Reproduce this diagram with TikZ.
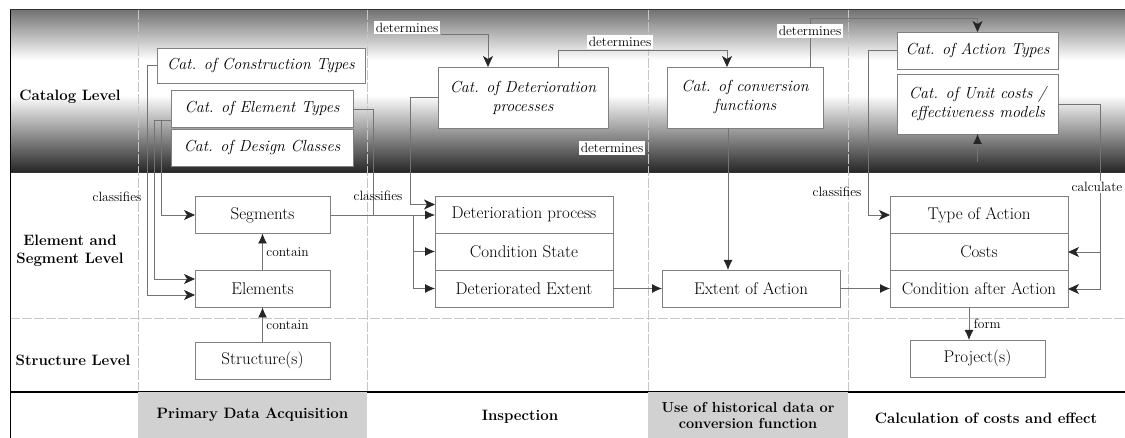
\documentclass[tikz,border=0pt]{standalone}
\usetikzlibrary{positioning, arrows.meta, calc}

\definecolor{linegray}{gray}{0.45}
\definecolor{boxgray}{gray}{0.5}
\definecolor{fieldgray}{gray}{0.82}

\begin{document}
\begin{tikzpicture}[x=1pt, y=-1pt, line width=0.8pt,
  data node/.style={draw=boxgray, fill=white, minimum height=37pt, inner sep=2pt, outer sep=0pt, font=\fontsize{17}{19}\selectfont},
  cat node/.style={data node, font=\fontsize{16}{19}\selectfont\itshape, align=center},
  level text/.style={font=\fontsize{15}{17.5}\selectfont\bfseries, align=center},
  field/.style={level text, fill=fieldgray, minimum height=46pt},
  small label/.style={font=\fontsize{13.5}{15}\selectfont, inner sep=1.5pt},
  det tag/.style={small label, fill=white, inner sep=2pt},
  conn/.style={draw=linegray},
  arr/.style={conn, -{Latex[length=10pt, width=9pt, color=black!85]}},
  sarr/.style={conn, -{Stealth[length=11pt, width=10pt, inset=3pt, color=black!85]}},
  divider/.style={draw=gray!45, line width=0.7pt, dash pattern=on 10pt off 2pt}]

\useasboundingbox (0,0) rectangle (1125,438);

% catalog band
\shade[top color=black!55, bottom color=white] (10,10) rectangle (1125,60);
\shade[top color=white, bottom color=black!85] (10,95) rectangle (1125,172);
\draw[black!80, line width=1pt] (10,10) -- (1125,10);
\draw[black!80] (10,172) -- (1125,172);
\draw[divider] (10,318) -- (1125,318);
\foreach \x in {138,367,648,848}
  \draw[divider] (\x,10) -- (\x,392);
\draw[black, line width=1.3pt] (10,392) -- (1125,392);
\draw[black, line width=1pt] (10,10) -- (10,438);

% levels and phases
\node[level text] (catlvl) at (70,97) {Catalog Level};
\node[level text] (seglvl) at (70,251) {Element and\\Segment Level};
\node[level text] (strlvl) at (73,360) {Structure Level};
\node[field, minimum width=229pt] (pda) at (252.5,415) {Primary Data Acquisition};
\node[level text] (insp) at (520,417) {Inspection};
\node[field, minimum width=200pt, font=\fontsize{14.5}{16}\selectfont\bfseries] (hist) at (748,415) {Use of historical data or\\conversion function};
\node[level text] (calcphase) at (986,418) {Calculation of costs and effect};

% catalogs
\node[cat node, minimum width=208pt, minimum height=35pt] (constr) at (261,65.5) {Cat. of Construction Types};
\node[cat node, minimum width=182pt] (eltype) at (262,109) {Cat. of Element Types};
\node[cat node, minimum width=182pt, below=1.5pt of eltype] (design) {Cat. of Design Classes};
\node[cat node, minimum width=170pt, minimum height=61pt] (catdet) at (523,97.5) {Cat. of Deterioration\\processes};
\node[cat node, minimum width=156pt, minimum height=61pt] (catconv) at (745,97.5) {Cat. of conversion\\functions};
\node[cat node, minimum width=161pt] (catact) at (977.5,50.5) {Cat. of Action Types};
\node[cat node, minimum width=161pt, minimum height=60pt, below=5pt of catact] (catcost) {Cat. of Unit costs /\\effectiveness models};

% data
\node[data node, minimum width=135pt] (seg) at (262.5,215) {Segments};
\node[data node, minimum width=135pt] (elem) at (262.5,289) {Elements};
\node[data node, minimum width=135pt] (struct) at (262.5,360.5) {Structure(s)};
\node[data node, minimum width=178pt] (detproc) at (524,214.5) {Deterioration process};
\node[data node, minimum width=178pt, below=0pt of detproc] (condst) {Condition State};
\node[data node, minimum width=178pt, below=0pt of condst] (detext) {Deteriorated Extent};
\node[data node, minimum width=178pt] (extent) at (751,288.5) {Extent of Action};
\node[data node, minimum width=178pt] (typeact) at (979,215) {Type of Action};
\node[data node, minimum width=178pt, below=0pt of typeact] (costs) {Costs};
\node[data node, minimum width=178pt, below=0pt of costs] (condafter) {Condition after Action};
\node[data node, minimum width=135pt] (project) at (977.5,358.5) {Project(s)};

% primary data
\draw[sarr] (constr.west) -- ++(-10,0) |- ([yshift=-6pt]elem.west);
\draw[sarr] ([yshift=-11pt]eltype.west) -- ++(-17,0) |- ([yshift=10pt]elem.west);
\draw[sarr] ([yshift=-11pt]eltype.west) -- ++(-10,0) |- (seg.west);
\node[small label] (cls1) at (117,197) {classifies};
\draw[arr] (elem.north) -- node[small label, right=2pt] {contain} (seg.south);
\draw[arr] (struct.north) -- node[small label, right=2pt] {contain} (elem.south);

% inspection
\draw[conn] (eltype.east) -| ($(seg.east)+(43,0)$);
\draw[arr] (seg.east) -- (seg.east -| detproc.west);
\coordinate (fork) at ($(seg.east -| detproc.west)+(-22,0)$);
\draw[arr] (fork) |- (condst.west);
\draw[arr] (fork) |- (detext.west);
\draw[sarr] (catdet.west) -- ++(-28,0) |- ([yshift=10pt]detproc.west);
\node[small label] (cls2) at (378,196) {classifies};

% extent of action
\draw[arr] (detext.east) -- (detext.east -| extent.west);
\draw[arr] ([xshift=-17pt]catconv.south) -- ([xshift=-17pt]catconv.south |- extent.north);
\draw[arr] (extent.east) -- (extent.east -| condafter.west);

% determines
\node[det tag] (d1) at (407,27.5) {determines};
\draw[sarr] (d1.south east) -| ([xshift=-35pt]catdet.north);
\draw[sarr] ([xshift=35pt]catdet.north) -- ++(0,-17) -| ([xshift=-18pt]catconv.north);
\node[det tag] (d2) at (620,42) {determines};
\node[det tag] (d3) at (612,148) {determines};
\draw[sarr] ([xshift=65pt]catconv.north) -- ++(0,-49) -| (catact.north);
\node[det tag] (d4) at (810,31) {determines};

% calculation
\draw[sarr] (catact.west) -- ++(-29,0) |- (typeact.west);
\node[small label] (cls3) at (837,192) {classifies};
\coordinate (calcbar) at ($(catcost.east)+(42,0)$);
\draw[sarr] (catcost.east) -- (calcbar) |- (condafter.east);
\draw[sarr] (calcbar |- costs.east) -- (costs.east);
\node[small label, fill=white] (calcl) at (1097,187) {calculate};
\draw[arr] ([yshift=-28pt]catcost.south) -- (catcost.south);
\draw[arr] ([xshift=-10pt]condafter.south) -- node[small label, right=3pt] {form} ([xshift=-10pt]condafter.south |- project.north);
\end{tikzpicture}
\end{document}
